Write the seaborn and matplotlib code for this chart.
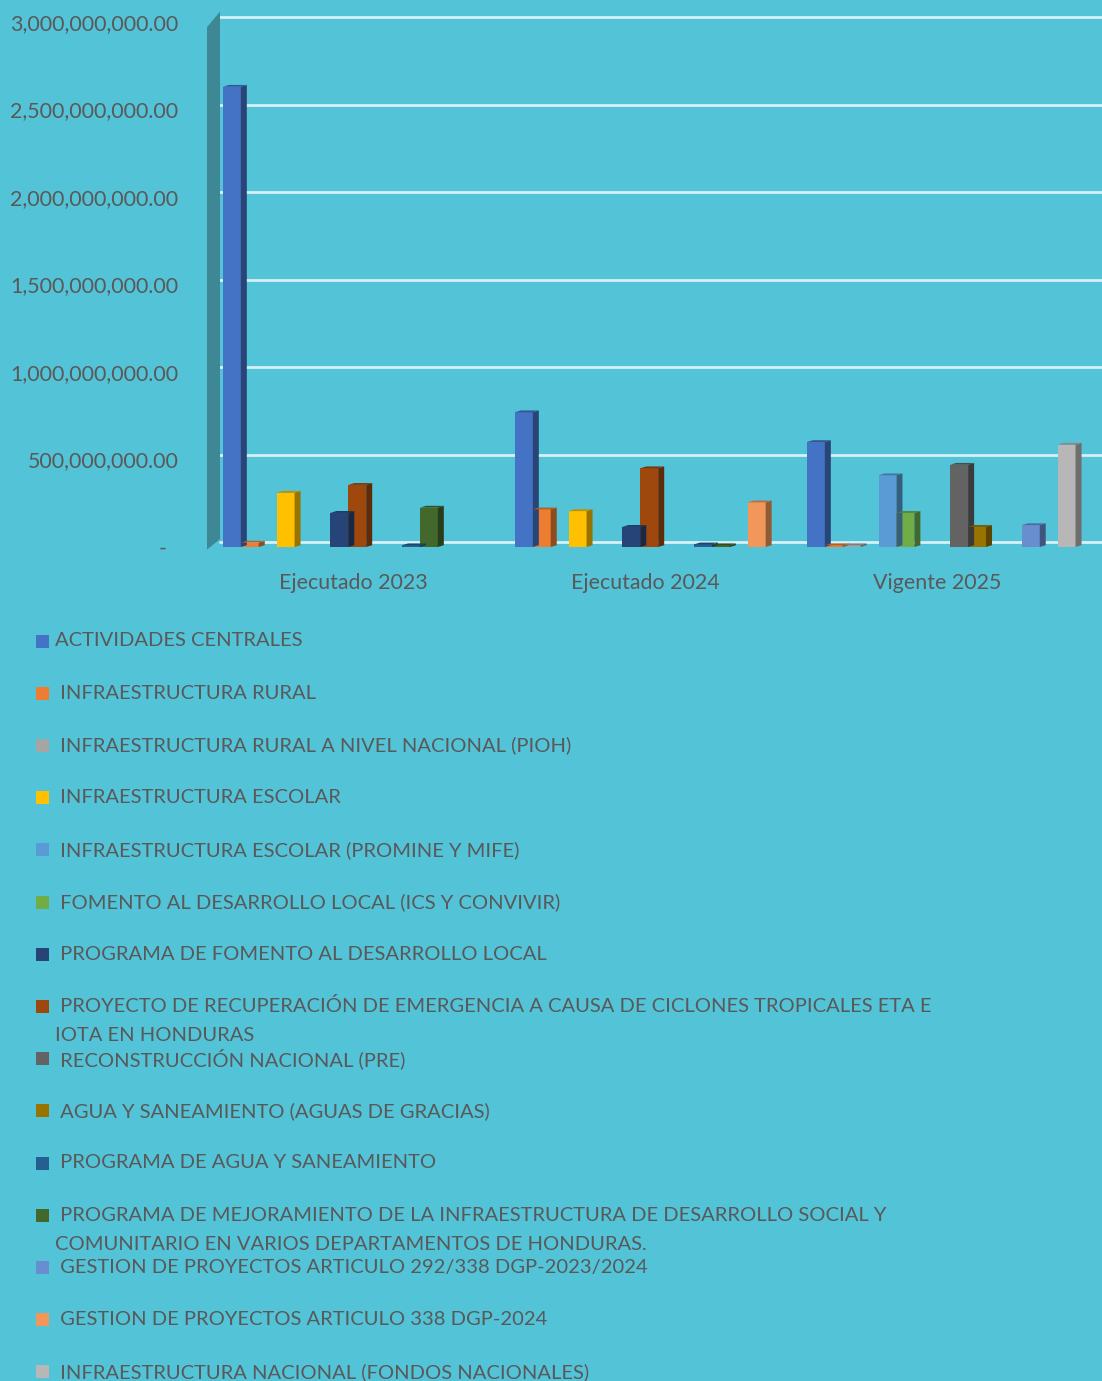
import numpy as np
import pandas as pd
import matplotlib
matplotlib.use("Agg")
import matplotlib.pyplot as plt
import matplotlib.transforms as mtransforms
from matplotlib.patches import Polygon, Rectangle
import seaborn as sns

categories = ["Ejecutado 2023", "Ejecutado 2024", "Vigente 2025"]

series = [
    "ACTIVIDADES CENTRALES",
    " INFRAESTRUCTURA RURAL",
    " INFRAESTRUCTURA RURAL A NIVEL NACIONAL (PIOH)",
    " INFRAESTRUCTURA ESCOLAR",
    " INFRAESTRUCTURA ESCOLAR (PROMINE Y MIFE)",
    " FOMENTO AL DESARROLLO LOCAL (ICS Y CONVIVIR)",
    " PROGRAMA DE FOMENTO AL DESARROLLO LOCAL",
    " PROYECTO DE RECUPERACIÓN DE EMERGENCIA A CAUSA DE CICLONES TROPICALES ETA E\nIOTA EN HONDURAS",
    " RECONSTRUCCIÓN NACIONAL (PRE)",
    " AGUA Y SANEAMIENTO (AGUAS DE GRACIAS)",
    " PROGRAMA DE AGUA Y SANEAMIENTO",
    " PROGRAMA DE MEJORAMIENTO DE LA INFRAESTRUCTURA DE DESARROLLO SOCIAL Y\nCOMUNITARIO EN VARIOS DEPARTAMENTOS DE HONDURAS.",
    " GESTION DE PROYECTOS ARTICULO 292/338 DGP-2023/2024",
    " GESTION DE PROYECTOS ARTICULO 338 DGP-2024",
    " INFRAESTRUCTURA NACIONAL (FONDOS NACIONALES)",
]

colors = ["#4472C4", "#ED7D31", "#A5A5A5", "#FFC000", "#5B9BD5",
          "#70AD47", "#264478", "#9E480E", "#636363", "#997300",
          "#255E91", "#43682B", "#698ED0", "#F1975A", "#B7B7B7"]

# values per series: [2023, 2024, 2025]
v_2023 = [2.63e9, 25e6, 0, 310e6, 0, 0, 195e6, 355e6, 0, 0, 10e6, 225e6, 0, 0, 0]
v_2024 = [770e6, 215e6, 0, 205e6, 0, 0, 115e6, 450e6, 0, 0, 15e6, 10e6, 0, 255e6, 0]
v_2025 = [600e6, 10e6, 10e6, 0, 410e6, 195e6, 0, 0, 470e6, 115e6, 0, 0, 125e6, 0, 585e6]

BG = "#53C3D8"
TXT = "#595959"
W, H = 1102, 1381

df = pd.DataFrame({
    "cat": np.repeat(categories, len(series)),
    "serie": series * 3,
    "valor": v_2023 + v_2024 + v_2025,
})

sns.set_theme(style="white")
plt.rcParams["font.family"] = ["Lato", "DejaVu Sans"]

fig = plt.figure(figsize=(W / 100, H / 100), dpi=100, facecolor=BG)
ax = fig.add_axes([220 / W, 1 - 547 / H, (W - 220) / W, (547 - 22) / H])
ax.set_facecolor(BG)

sns.barplot(data=df, x="cat", y="valor", hue="serie", hue_order=series,
            palette=dict(zip(series, colors)), width=0.92, gap=0,
            saturation=1, legend=False, ax=ax, edgecolor="none")

ax.set_ylim(0, 3e9)
ax.set_xlim(-0.47, -0.47 + (W - 220) / 292.0)

# fake 3D depth on each bar
ppx = 1 / 292.0          # data units per pixel in x
ppy = 3e9 / 525.0        # data units per pixel in y
dx, dy = 6 * ppx, 6 * ppy
for p in list(ax.patches):
    x0, w, h = p.get_x(), p.get_width(), p.get_height()
    if h <= 0:
        continue
    c = np.array(matplotlib.colors.to_rgb(p.get_facecolor()))
    side = Polygon([(x0 + w, 0), (x0 + w + dx, dy * 0.3), (x0 + w + dx, h + dy * 0.3), (x0 + w, h)],
                   closed=True, facecolor=c * 0.6, edgecolor="none", zorder=p.get_zorder())
    top = Polygon([(x0, h), (x0 + w, h), (x0 + w + dx, h + dy * 0.3), (x0 + dx, h + dy * 0.3)],
                  closed=True, facecolor=c * 0.75, edgecolor="none", zorder=p.get_zorder())
    ax.add_patch(side)
    ax.add_patch(top)

# grid lines on the back wall (slightly raised) and left wall
yt = np.arange(0, 3.01e9, 5e8)
for y in yt:
    ax.axhline(y + 5 * ppy, color="#D6F1F7", lw=2, zorder=0.5, clip_on=False)
wf = 13 / (W - 220)
wall = Polygon([(-wf, -0.005), (0, 0.015), (0, 1.02), (-wf, 0.99)], closed=True,
               transform=ax.transAxes, facecolor="#3E8794", edgecolor="none", clip_on=False)
ax.add_patch(wall)

for s in ax.spines.values():
    s.set_visible(False)

ax.set_yticks(yt)
ax.set_yticklabels(["-  "] + [f"{v:,.2f}" for v in yt[1:]])
ax.tick_params(axis="y", length=0, pad=30, labelsize=15.4, labelcolor=TXT)
ax.tick_params(axis="x", length=0, pad=19, labelsize=15.4, labelcolor=TXT)
ax.set_xlabel("")
ax.set_ylabel("")

# nudge category labels a little left (3D perspective)
shift = mtransforms.ScaledTranslation(-4 / 100, 0, fig.dpi_scale_trans)
for lbl in ax.get_xticklabels():
    lbl.set_transform(lbl.get_transform() + shift)

# legend drawn below
for i, (name, col) in enumerate(zip(series, colors)):
    yc = 641 + 52.2 * i
    fig.add_artist(Rectangle((36 / W, 1 - (yc + 6.5) / H), 13 / W, 13 / H,
                             transform=fig.transFigure, facecolor=col, edgecolor="none"))
    for j, line in enumerate(name.split("\n")):
        fig.text(55 / W, 1 - (yc + 29 * j) / H, line, ha="left", va="center",
                 fontsize=14.5, color=TXT)

fig.savefig("out.png", dpi=100, facecolor=BG)
